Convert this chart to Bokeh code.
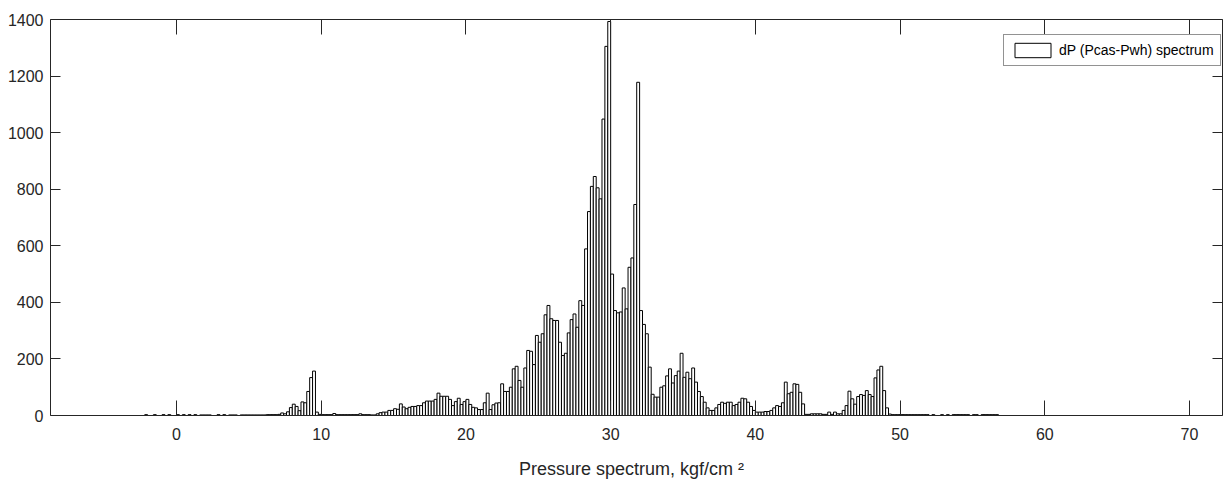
from bokeh.plotting import figure
from bokeh.models import (LinearAxis, SingleIntervalTicker, CustomJSTickFormatter,
                          Legend, LegendItem, Range1d, ColumnDataSource)
from bokeh.embed import file_html
from bokeh.resources import INLINE

# ---- data: histogram of dP (Pcas-Pwh), bin width 0.2 kgf/cm2 ----
bin_first_center = -2.1
bin_width = 0.2
counts = (
    [3, 0, 0, 3, 0] +          # -2
    [0, 3, 0, 3, 0] +          # -1
    [0, 3, 0, 3, 0] +          # 0
    [3, 0, 3, 0, 2] +          # 1
    [2, 2, 2, 0, 0] +          # 2
    [3, 0, 3, 0, 2] +          # 3
    [2, 2, 0, 2, 2] +          # 4
    [2, 2, 2, 2, 2] +          # 5
    [2, 2, 3, 3, 3] +          # 6
    [3, 4, 9, 6, 13] +         # 7
    [28, 40, 32, 17, 48] +     # 8
    [45, 85, 134, 157, 12] +   # 9
    [4, 3, 3, 3, 3] +          # 10
    [7, 3, 3, 3, 3] +          # 11
    [3, 3, 3, 3, 6] +          # 12
    [3, 3, 3, 2, 2] +          # 13
    [6, 10, 12, 12, 18] +      # 14
    [18, 24, 22, 41, 30] +     # 15
    [24, 29, 32, 32, 35] +     # 16
    [35, 45, 51, 51, 51] +     # 17
    [57, 79, 68, 68, 68] +     # 18
    [57, 35, 49, 61, 39] +     # 19
    [49, 57, 39, 29, 27] +     # 20
    [21, 21, 45, 79, 21] +     # 21
    [38, 44, 45, 112, 85] +    # 22
    [85, 100, 165, 174, 124] + # 23
    [100, 168, 230, 227, 180] +# 24
    [283, 259, 289, 356, 389] +# 25
    [342, 336, 336, 259, 212] +# 26
    [220, 292, 339, 359, 312] +# 27
    [406, 389, 589, 721, 810] +# 28
    [845, 805, 766, 1048, 1305] + # 29
    [1393, 500, 371, 363, 366] +  # 30
    [451, 377, 524, 557, 746] +   # 31
    [1178, 371, 322, 289, 171] +  # 32
    [75, 65, 65, 100, 105] +   # 33
    [140, 165, 115, 141, 157] +# 34
    [220, 135, 153, 130, 168] +# 35
    [118, 85, 67, 47, 27] +    # 36
    [18, 18, 27, 39, 47] +     # 37
    [43, 47, 47, 35, 39] +     # 38
    [47, 61, 59, 47, 32] +     # 39
    [18, 12, 12, 12, 14] +     # 40
    [14, 18, 27, 35, 32] +     # 41
    [45, 118, 77, 82, 112] +   # 42
    [110, 82, 41, 4, 4] +      # 43
    [6, 6, 6, 6, 4] +          # 44
    [4, 12, 4, 12, 6] +        # 45
    [6, 18, 35, 86, 59] +      # 46
    [40, 67, 74, 71, 88] +     # 47
    [74, 67, 133, 161, 174] +  # 48
    [88, 27, 5, 3, 3] +        # 49
    [3, 3, 3, 3, 3] +          # 50
    [3, 3, 3, 3, 3] +          # 51
    [3, 0, 3, 0, 0] +          # 52
    [3, 0, 3, 0, 3] +          # 53
    [3, 3, 3, 3, 3] +          # 54
    [0, 3, 3, 0, 3] +          # 55
    [3, 3, 3, 3, 3]            # 56
)
series_name = "dP (Pcas-Pwh) spectrum"
x_label = "Pressure spectrum, kgf/cm   \u00b2"

centers = [round(bin_first_center + i * bin_width, 2) for i in range(len(counts))]
src = ColumnDataSource(dict(x=centers, top=counts))

FONT = "Liberation Sans"
AX = "#262626"

p = figure(width=1224, height=484, output_backend="svg", toolbar_location=None,
           x_range=Range1d(-8.71, 72.28), y_range=Range1d(0, 1400),
           min_border_left=50, min_border_right=2, min_border_top=19, min_border_bottom=69,
           x_axis_location=None, y_axis_location=None)
p.outline_line_color = None
p.grid.visible = False
p.background_fill_color = "white"
p.border_fill_color = "white"

r = p.vbar(x="x", top="top", width=bin_width, source=src, bottom=0,
           fill_color="white", line_color="black", line_width=1)

xt = SingleIntervalTicker(interval=10, num_minor_ticks=0)
yt = SingleIntervalTicker(interval=200, num_minor_ticks=0)
blank = CustomJSTickFormatter(code="return ''")

xb = LinearAxis(ticker=xt, axis_label=x_label)
xa = LinearAxis(ticker=xt, formatter=blank)
yl = LinearAxis(ticker=yt)
yr = LinearAxis(ticker=yt, formatter=blank)
for ax, tin in ((xb, 15), (xa, 15), (yl, 10), (yr, 10)):
    ax.major_tick_in = tin
    ax.major_tick_out = 0
    ax.minor_tick_in = 0
    ax.minor_tick_out = 0
    ax.axis_line_color = AX
    ax.major_tick_line_color = AX
    ax.major_label_text_font = FONT
    ax.major_label_text_font_size = "16px"
    ax.major_label_text_color = AX
    ax.axis_label_text_font = FONT
    ax.axis_label_text_font_style = "normal"
    ax.axis_label_text_font_size = "18px"
    ax.axis_label_text_color = AX
xb.major_label_standoff = 12
xb.axis_label_standoff = 16
yl.major_label_standoff = 7
xa.major_label_standoff = 0
yr.major_label_standoff = 0
p.add_layout(xb, "below")
p.add_layout(xa, "above")
p.add_layout(yl, "left")
p.add_layout(yr, "right")

leg = Legend(items=[LegendItem(label=series_name, renderers=[r])], location=(953, 349))
leg.margin = 0
leg.padding = 6
leg.spacing = 0
leg.glyph_width = 45
leg.glyph_height = 18
leg.label_standoff = 4
leg.label_text_font = FONT
leg.label_text_font_size = "14px"
leg.label_text_color = "black"
leg.border_line_color = AX
leg.border_line_width = 1
leg.background_fill_color = "white"
leg.background_fill_alpha = 1
p.add_layout(leg, "center")

open("out.html", "w").write(file_html(p, INLINE))
